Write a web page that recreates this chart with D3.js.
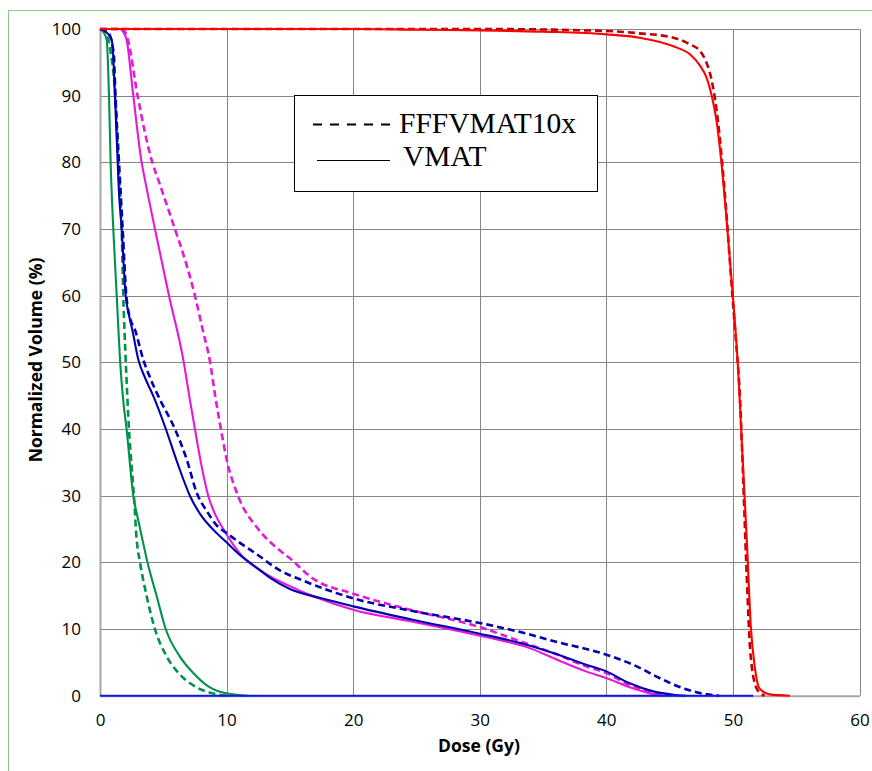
<!DOCTYPE html>
<html>
<head>
<meta charset="utf-8">
<script src="https://cdn.jsdelivr.net/npm/d3@7"></script>
<style>
	body { margin: 0; background: #fff; }
	svg { display: block; }
</style>
</head>
<body>
<div id="chart"></div>
<script>
	'use strict';

	// dose (Gy) / normalized volume (%) pairs
	var greenVmatDose = [0, 0.25, 0.53, 0.71, 0.84, 1.05, 1.32, 1.58, 1.85, 2.1, 2.63, 3.0, 3.4, 3.75, 4.47, 5.19, 6.3, 7.37, 8.55, 9.87, 11.7];
	var greenVmatVol = [100, 99.6, 98.4, 90, 80, 70, 60, 50.4, 44, 40, 30, 26.5, 23, 20, 15, 10, 5.9, 3.4, 1.4, 0.4, 0];
	var greenFffDose = [0, 0.4, 0.8, 1.2, 1.45, 1.71, 1.84, 2.03, 2.29, 2.68, 2.9, 3.16, 3.68, 4.34, 5.26, 6.2, 7.5, 8.8, 10.1];
	var greenFffVol = [100, 99.5, 97, 90, 80, 70, 60, 50.4, 40, 30, 23.4, 20, 15, 10, 5.9, 3.4, 1.4, 0.4, 0];

	var blueVmatDose = [0, 0.5, 0.92, 1.03, 1.18, 1.4, 1.45, 1.71, 2.03, 2.3, 2.55, 3.03, 3.6, 4.2, 5.2, 6.1, 7.1, 8, 9, 10, 11, 12.1, 13.5, 15, 17.5, 20, 24.7, 30, 33.2, 35.8, 38.4, 40, 41.8, 43.7, 45.3, 46.3];
	var blueVmatVol = [100, 99.5, 98.4, 96.4, 90, 80, 77.4, 70, 60, 57, 54.9, 50.4, 47.5, 45, 40, 35, 30, 27, 24.8, 23, 21.2, 19.6, 17.6, 16.0, 14.6, 13.4, 11.4, 9.3, 7.9, 6.4, 4.65, 3.65, 1.9, 0.65, 0.15, 0];
	var blueFffDose = [0, 0.6, 1.08, 1.22, 1.5, 1.79, 2.08, 2.4, 2.76, 3.42, 4.0, 4.74, 5.92, 6.84, 7.63, 8.5, 9.2, 10, 11, 12.4, 14.2, 16, 20, 24.7, 30, 33.2, 35.8, 40, 42.4, 44.2, 45.8, 47.4, 48.9];
	var blueFffVol = [100, 99.6, 96.4, 90, 80, 70, 60, 56.5, 54.9, 50.4, 47.5, 44.4, 40, 35.5, 30.5, 27.5, 25.6, 24.4, 23.0, 21.2, 18.8, 17.3, 14.6, 12.7, 10.9, 9.55, 8.2, 6.15, 4.4, 2.65, 1.3, 0.4, 0];

	var magentaVmatDose = [0, 1.0, 1.58, 1.85, 2.1, 2.63, 3.29, 3.55, 4.34, 5.45, 6.58, 7.1, 7.5, 8.03, 8.55, 9.1, 9.74, 11.2, 13, 14.7, 17, 20, 24.7, 30, 34, 35.8, 38.4, 40, 41.8, 43.7, 44.5];
	var magentaVmatVol = [100, 100, 100, 99.5, 98.4, 90, 80, 77.4, 70, 60, 50.4, 44.4, 40, 34.4, 30, 27.2, 25, 21, 18.4, 16.7, 14.8, 12.9, 11.1, 9.0, 7.1, 5.65, 3.65, 2.65, 1.3, 0.25, 0];
	var magentaFffDose = [0, 1.0, 1.7, 2.0, 2.2, 2.97, 4.13, 4.6, 5.92, 6.7, 7.5, 8.1, 8.7, 9.1, 9.55, 10, 10.9, 12.5, 14.2, 15, 16.8, 20, 24.7, 30, 33.2, 35.8, 38.4, 40, 41.8, 43.7, 44.7];
	var magentaFffVol = [100, 100, 100, 99.5, 98.4, 90, 80, 77.4, 70, 65.5, 60, 55, 50, 45, 40, 35.5, 30, 25, 21.8, 20.6, 17.6, 15.3, 12.8, 10.3, 8.15, 6.4, 4.4, 3.4, 1.65, 0.5, 0];

	var redVmatDose = [0, 20, 25, 30, 35, 40, 42.6, 45.3, 46.6, 47.4, 47.9, 48.3, 48.7, 49.1, 49.5, 49.95, 50.4, 50.75, 51.1, 51.42, 51.72, 52.1, 52.9, 54.5];
	var redVmatVol = [100, 100, 99.9, 99.8, 99.6, 99.2, 98.7, 97.4, 96.2, 94.5, 92.8, 90.2, 86.3, 79.8, 71.4, 61.0, 49.3, 36.2, 23.2, 10.2, 4.4, 1.1, 0.2, 0];
	var redFffDose = [0, 30, 40, 42.6, 45.3, 46.6, 47.4, 47.9, 48.3, 48.7, 49.1, 49.5, 49.9, 50.25, 50.55, 50.8, 51.05, 51.4, 51.9, 52.5];
	var redFffVol = [100, 100, 99.7, 99.35, 98.7, 97.7, 96.7, 95, 92.5, 88, 81, 72, 61.5, 53, 45, 33, 20, 6, 1, 0];

	var zeroLineDose = [0, 51.6];
	var zeroLineVol = [0, 0];

	var xTicks = [0, 10, 20, 30, 40, 50, 60];
	var yTicks = [0, 10, 20, 30, 40, 50, 60, 70, 80, 90, 100];
	var legendLabels = ['FFFVMAT10x', 'VMAT'];

	var width = 872, height = 771;
	var margin = { left: 100, top: 29, right: 12.5, bottom: 75.3 };
	var plotW = width - margin.left - margin.right;
	var plotH = height - margin.top - margin.bottom;

	var svg = d3.select('#chart')
		.append('svg')
		.attr('width', width)
		.attr('height', height);

	// outer chart-area border
	svg.append('rect')
		.attr('x', 8.5)
		.attr('y', 10.5)
		.attr('width', 872)
		.attr('height', 780)
		.attr('fill', '#fff')
		.attr('stroke', '#8cc88c')
		.attr('stroke-width', 1);

	var x = d3.scaleLinear().domain([0, 60]).range([0, plotW]);
	var y = d3.scaleLinear().domain([0, 100]).range([plotH, 0]);

	var g = svg.append('g')
		.attr('transform', 'translate(' + margin.left + ',' + margin.top + ')');

	// grid
	g.append('g')
		.selectAll('line')
		.data(yTicks.slice(1))
		.enter()
		.append('line')
		.attr('x1', 0)
		.attr('x2', plotW)
		.attr('y1', function (d) { return Math.round(y(d)) + 0.5; })
		.attr('y2', function (d) { return Math.round(y(d)) + 0.5; })
		.attr('stroke', '#868686')
		.attr('stroke-width', 1);

	g.append('g')
		.selectAll('line')
		.data(xTicks.slice(1))
		.enter()
		.append('line')
		.attr('x1', function (d) { return Math.round(x(d)) + 0.5; })
		.attr('x2', function (d) { return Math.round(x(d)) + 0.5; })
		.attr('y1', 0)
		.attr('y2', plotH)
		.attr('stroke', '#868686')
		.attr('stroke-width', 1);

	// axes
	var xAxis = d3.axisBottom(x).tickValues(xTicks).tickSize(0).tickPadding(18);
	var yAxis = d3.axisLeft(y).tickValues(yTicks).tickSize(0).tickPadding(19);

	var gx = g.append('g')
		.attr('transform', 'translate(0,' + plotH + ')')
		.call(xAxis);
	var gy = g.append('g').call(yAxis);

	[gx, gy].forEach(function (ax) {
		ax.select('.domain')
			.attr('stroke', '#a6a6a6')
			.attr('stroke-width', 2);
		ax.selectAll('text')
			.attr('fill', '#000')
			.style('font-family', '"Open Sans", sans-serif')
			.style('font-size', '17px');
	});

	svg.append('text')
		.attr('x', 479)
		.attr('y', 752)
		.attr('text-anchor', 'middle')
		.style('font-family', '"Open Sans", sans-serif')
		.style('font-weight', 'bold')
		.style('font-size', '17.5px')
		.text('Dose (Gy)');

	svg.append('text')
		.attr('transform', 'translate(42,360) rotate(-90)')
		.attr('text-anchor', 'middle')
		.style('font-family', '"Open Sans", sans-serif')
		.style('font-weight', 'bold')
		.style('font-size', '17.5px')
		.text('Normalized Volume (%)');

	// curves
	function toPoints(dose, vol) {
		return dose.map(function (d, i) { return [d, vol[i]]; });
	}

	var series = [
		{ pts: toPoints(greenFffDose, greenFffVol), color: '#00914a', dash: '7,4' },
		{ pts: toPoints(greenVmatDose, greenVmatVol), color: '#00914a', dash: null },
		{ pts: toPoints(magentaFffDose, magentaFffVol), color: '#e619d8', dash: '7,4' },
		{ pts: toPoints(magentaVmatDose, magentaVmatVol), color: '#e619d8', dash: null },
		{ pts: toPoints(blueFffDose, blueFffVol), color: '#0000b0', dash: '7,4' },
		{ pts: toPoints(blueVmatDose, blueVmatVol), color: '#0000b0', dash: null },
		{ pts: toPoints(zeroLineDose, zeroLineVol), color: '#1414e6', dash: null },
		{ pts: toPoints(redFffDose, redFffVol), color: '#c00000', dash: '7,4' },
		{ pts: toPoints(redVmatDose, redVmatVol), color: '#ff0000', dash: null }
	];

	var line = d3.line()
		.x(function (d) { return x(d[0]); })
		.y(function (d) { return y(d[1]); })
		.curve(d3.curveMonotoneX);

	g.append('g')
		.selectAll('path')
		.data(series)
		.enter()
		.append('path')
		.attr('d', function (d) { return line(d.pts); })
		.attr('fill', 'none')
		.attr('stroke', function (d) { return d.color; })
		.attr('stroke-width', function (d) { return d.dash ? 2.6 : 2.1; })
		.attr('stroke-dasharray', function (d) { return d.dash; });

	// legend
	var legend = svg.append('g');
	legend.append('rect')
		.attr('x', 294.5)
		.attr('y', 95.5)
		.attr('width', 303)
		.attr('height', 96)
		.attr('fill', '#fff')
		.attr('stroke', '#000')
		.attr('stroke-width', 1);

	legend.append('line')
		.attr('x1', 313)
		.attr('x2', 391)
		.attr('y1', 124.5)
		.attr('y2', 124.5)
		.attr('stroke', '#000')
		.attr('stroke-width', 2)
		.attr('stroke-dasharray', '9,8');

	legend.append('line')
		.attr('x1', 317)
		.attr('x2', 390)
		.attr('y1', 160.5)
		.attr('y2', 160.5)
		.attr('stroke', '#000')
		.attr('stroke-width', 1.2);

	legend.selectAll('text')
		.data(legendLabels)
		.enter()
		.append('text')
		.attr('x', function (d, i) { return i === 0 ? 399 : 403; })
		.attr('y', function (d, i) { return i === 0 ? 133 : 166; })
		.style('font-family', '"Liberation Serif", "Times New Roman", serif')
		.style('font-size', '29.5px')
		.attr('fill', '#000')
		.text(function (d) { return d; });
</script>
</body>
</html>
